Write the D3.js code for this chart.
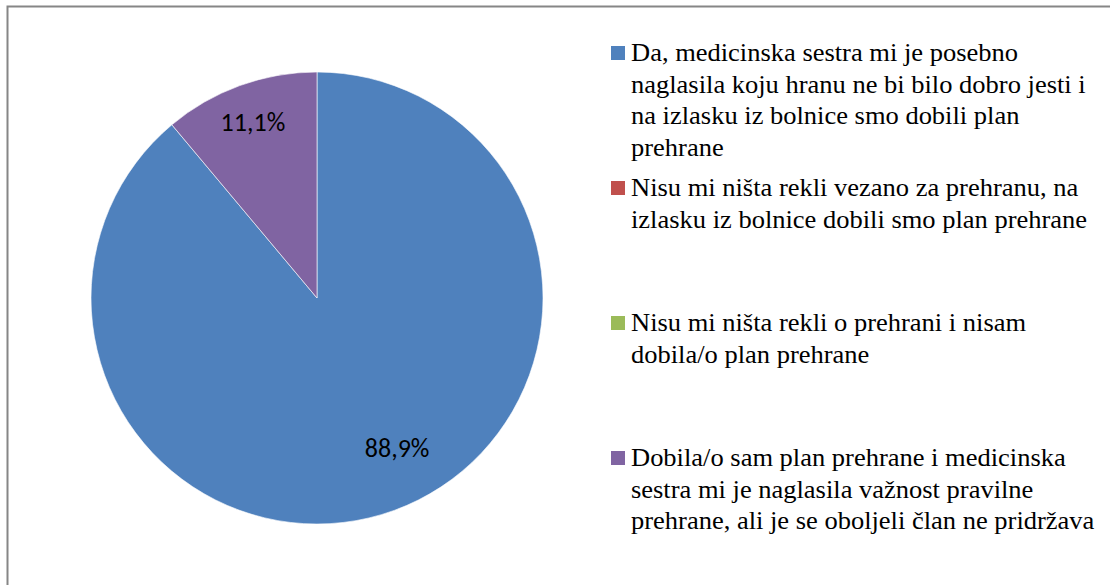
<!DOCTYPE html>
<html>
<head>
<meta charset="utf-8">
<script src="https://cdn.jsdelivr.net/npm/d3@7"></script>
<style>
  body { margin: 0; background: #fff; }
  svg { display: block; }
</style>
</head>
<body>
<script>
// chart data
var categories = [
  "Da, medicinska sestra mi je posebno naglasila koju hranu ne bi bilo dobro jesti i na izlasku iz bolnice smo dobili plan prehrane",
  "Nisu mi ništa rekli vezano za prehranu, na izlasku iz bolnice dobili smo plan prehrane",
  "Nisu mi ništa rekli o prehrani i nisam dobila/o plan prehrane",
  "Dobila/o sam plan prehrane i medicinska sestra mi je naglasila važnost pravilne prehrane, ali je se oboljeli član ne pridržava"
];
var values = [88.9, 0, 0, 11.1];
var colors = ["#4f81bd", "#c0504d", "#9bbb59", "#8064a2"];

// legend lines as wrapped in the original
var legendLines = [
  ["Da, medicinska sestra mi je posebno", "naglasila koju hranu ne bi bilo dobro jesti i", "na izlasku iz bolnice smo dobili plan", "prehrane"],
  ["Nisu mi ništa rekli vezano za prehranu, na", "izlasku iz bolnice dobili smo plan prehrane"],
  ["Nisu mi ništa rekli o prehrani i nisam", "dobila/o plan prehrane"],
  ["Dobila/o sam plan prehrane i medicinska", "sestra mi je naglasila važnost pravilne", "prehrane, ali je se oboljeli član ne pridržava"]
];

var width = 1110, height = 585;
var cx = 317, cy = 298, radius = 226;

var svg = d3.select("body").append("svg")
  .attr("width", width)
  .attr("height", height);

// chart frame (runs off the right and bottom edge)
svg.append("rect")
  .attr("x", 7.5)
  .attr("y", 6.5)
  .attr("width", width + 20)
  .attr("height", height + 20)
  .attr("fill", "#fff")
  .attr("stroke", "#868686")
  .attr("stroke-width", 2);

var pie = d3.pie().sort(null).value(function(d) { return d; });
var arcs = pie(values);

var arc = d3.arc().innerRadius(0).outerRadius(radius);
var labelArc = d3.arc().innerRadius(radius * 0.83).outerRadius(radius * 0.83);

var g = svg.append("g").attr("transform", "translate(" + cx + "," + cy + ")");

g.selectAll("path.slice")
  .data(arcs)
  .enter()
  .append("path")
  .attr("class", "slice")
  .attr("d", arc)
  .attr("fill", function(d, i) { return colors[i]; })
  .attr("stroke", "#fff")
  .attr("stroke-opacity", 0.6)
  .attr("stroke-width", function(d) { return d.value > 0 ? 1 : 0; });

// percentage labels
g.selectAll("text.lbl")
  .data(arcs.filter(function(d) { return d.value > 0; }))
  .enter()
  .append("text")
  .attr("class", "lbl")
  .attr("transform", function(d) {
    var c = labelArc.centroid(d);
    // excel's best fit pulls the big label a bit in
    if (d.value > 50) { c[0] += 16; c[1] -= 26; }
    return "translate(" + c[0] + "," + c[1] + ")";
  })
  .attr("text-anchor", "middle")
  .attr("dy", "0.35em")
  .attr("font-family", "Carlito, 'Liberation Sans', sans-serif")
  .attr("font-size", 26)
  .attr("fill", "#000")
  .text(function(d) { return d3.format(".1f")(d.value).replace(".", ",") + "%"; });

// legend
var legend = svg.append("g").attr("transform", "translate(611,0)");

var item = legend.selectAll("g.item")
  .data(categories)
  .enter()
  .append("g")
  .attr("class", "item")
  .attr("transform", function(d, i) { return "translate(0," + (61 + i * 135) + ")"; });

item.append("rect")
  .attr("x", 0)
  .attr("y", -15)
  .attr("width", 14)
  .attr("height", 14)
  .attr("fill", function(d, i) { return colors[i]; });

// the original text is a little stretched sideways
item.append("text")
  .attr("transform", "translate(20,0) scale(1.06,1)")
  .attr("font-family", "Liberation Serif")
  .attr("font-size", 25)
  .attr("fill", "#000")
  .selectAll("tspan")
  .data(function(d, i) { return legendLines[i]; })
  .enter()
  .append("tspan")
  .attr("x", 0)
  .attr("y", function(d, j) { return j * 31.7; })
  .text(function(d) { return d; });
</script>
</body>
</html>
